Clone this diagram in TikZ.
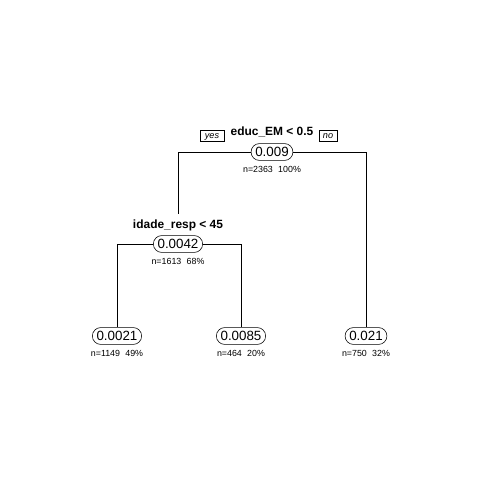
\documentclass[tikz,border=0pt]{standalone}
\usepackage{fontspec}
\setmainfont{Liberation Sans}
\begin{document}
\begin{tikzpicture}[x=0.025cm,y=-0.025cm,
  split/.style={draw,rounded corners=6pt,minimum height=12pt,inner xsep=3pt,inner ysep=0pt,font=\fontsize{9.5}{10}\selectfont,fill=white},
  rule/.style={font=\fontsize{8.5}{9}\bfseries\selectfont},
  info/.style={font=\fontsize{6.3}{7}\selectfont},
  yn/.style={draw,inner xsep=2pt,inner ysep=0pt,minimum height=7.5pt,minimum width=17pt,text depth=0pt,font=\fontsize{6.5}{7}\itshape\selectfont},
  edge/.style={line width=0.4pt}]
\useasboundingbox (0,0) rectangle (480,480);
\coordinate (rl) at (178,152);
\coordinate (rr) at (366,152);
\coordinate (il) at (117,244);
\coordinate (ir) at (241,244);
\node[split] (root) at (272,152) {0.009};
\node[split] (n2) at (178,244) {0.0042};
\node[split] (l1) at (117,336) {0.0021};
\node[split] (l2) at (241,336) {0.0085};
\node[split] (l3) at (366,336) {0.021};
\node[rule] (r1) at (272,132) {educ\_EM < 0.5};
\node[rule] (r2) at (178,225) {idade\_resp < 45};
\draw[edge] (root.west) -- (rl) -- (r2.north -| rl);
\draw[edge] (root.east) -- (rr) -- (l3.north);
\draw[edge] (n2.west) -- (il) -- (l1.north);
\draw[edge] (n2.east) -- (ir) -- (l2.north);
\node[yn] (yes) at (212,136) {yes};
\node[yn,minimum width=13pt] (no) at (328,136) {no};
\node[info] (i1) at (272,169) {n=2363\hspace{0.6em}100\%};
\node[info] (i2) at (178,261) {n=1613\hspace{0.6em}68\%};
\node[info] (i3) at (117,353) {n=1149\hspace{0.6em}49\%};
\node[info] (i4) at (241,353) {n=464\hspace{0.6em}20\%};
\node[info] (i5) at (366,353) {n=750\hspace{0.6em}32\%};
\end{tikzpicture}
\end{document}
